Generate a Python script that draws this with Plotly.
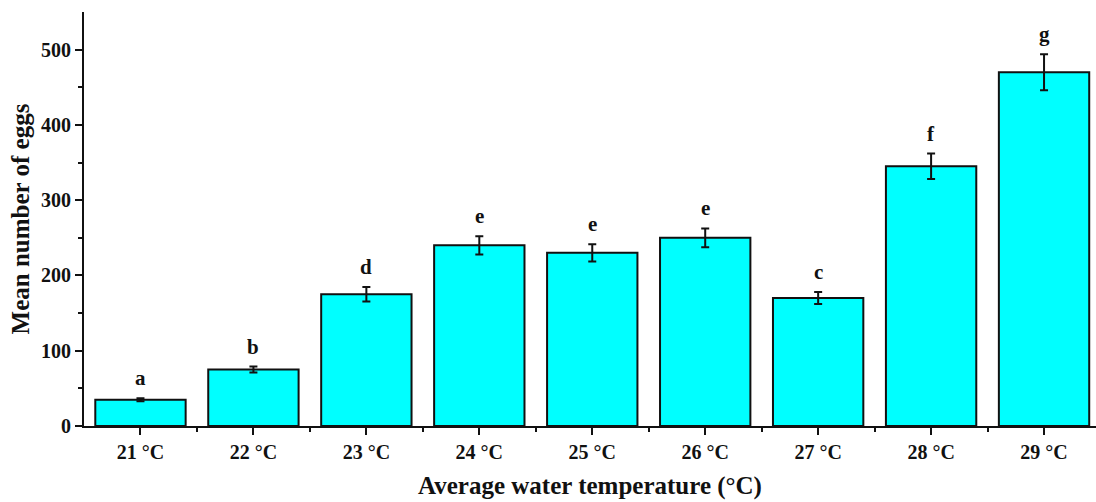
import plotly.graph_objects as go

# Mean egg counts per average water temperature, with standard errors and group letters
temperatures = ["21 °C", "22 °C", "23 °C", "24 °C", "25 °C", "26 °C", "27 °C", "28 °C", "29 °C"]
mean_eggs = [35, 75, 175, 240, 230, 250, 170, 345, 470]
errors = [2, 4, 9.5, 12, 11.5, 12.5, 8, 17, 24]
groups = ["a", "b", "d", "e", "e", "e", "c", "f", "g"]

FONT = "Liberation Serif"
positions = list(range(len(temperatures)))

fig = go.Figure(
    go.Bar(
        x=positions,
        y=mean_eggs,
        width=0.8,
        marker=dict(color="#00FFFF", line=dict(color="#111111", width=2)),
        error_y=dict(type="data", array=errors, visible=True,
                     color="#111111", thickness=2, width=4),
    )
)

# significance letters above each error bar
for xi, m, e, g in zip(positions, mean_eggs, errors, groups):
    fig.add_annotation(
        x=xi, y=m + e, text=f"<b>{g}</b>", showarrow=False,
        yanchor="bottom", yshift=6,
        font=dict(family=FONT, size=21, color="#111111"),
    )

fig.update_layout(
    width=1096, height=502,
    margin=dict(l=84, r=0, t=12, b=76),
    plot_bgcolor="white", paper_bgcolor="white",
    showlegend=False,
    font=dict(family=FONT, color="#111111"),
)

fig.update_xaxes(
    range=[-0.5, 8.46],
    tickvals=positions,
    ticktext=[f"<b>{t}</b>" for t in temperatures],
    tickfont=dict(family=FONT, size=20, color="#111111"),
    ticks="outside", ticklen=7, tickwidth=2, tickcolor="#111111",
    minor=dict(tickvals=[p + 0.5 for p in positions], ticks="outside",
               ticklen=4, tickwidth=2, tickcolor="#111111"),
    showline=True, linecolor="#111111", linewidth=2,
    showgrid=False, zeroline=False,
    title=dict(text="<b>Average water temperature (°C)</b>",
               font=dict(family=FONT, size=25, color="#111111"), standoff=14),
)

fig.update_yaxes(
    range=[0, 550],
    tickvals=[0, 100, 200, 300, 400, 500],
    ticktext=["<b>0</b>", "<b>100</b>", "<b>200</b>", "<b>300</b>", "<b>400</b>", "<b>500</b>"],
    tickfont=dict(family=FONT, size=20, color="#111111"),
    ticks="outside", ticklen=7, tickwidth=2, tickcolor="#111111",
    minor=dict(tickvals=[50, 150, 250, 350, 450], ticks="outside",
               ticklen=4, tickwidth=2, tickcolor="#111111"),
    showline=True, linecolor="#111111", linewidth=2,
    showgrid=False, zeroline=False,
    title=dict(text="<b>Mean number of eggs</b>",
               font=dict(family=FONT, size=25, color="#111111"), standoff=4),
)

fig.write_html("out.html")
